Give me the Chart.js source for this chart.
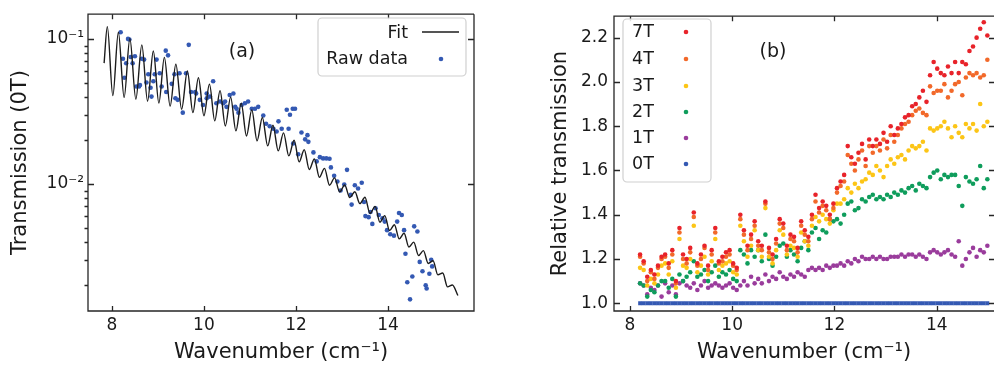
<!DOCTYPE html>
<html>
<head>
<meta charset="utf-8">
<script src="https://cdn.jsdelivr.net/npm/chart.js@4.4.1/dist/chart.umd.min.js"></script>
<style>
    html, body { margin: 0; padding: 0; background: #fff; overflow: hidden; }
    body { width: 998px; height: 367px; position: relative; }
    #leftChart { position: absolute; left: 0; top: 0; }
    #rightChart { position: absolute; left: 540px; top: 0; }
</style>
</head>
<body>
<canvas id="leftChart" width="490" height="367"></canvas>
<canvas id="rightChart" width="458" height="367"></canvas>
<script>
// ==============================
// Data: panel (a)
// ==============================

const fitX = [7.83, 7.90, 8.02, 8.14, 8.265, 8.39, 8.52, 8.65, 8.775, 8.90,
    9.02, 9.14, 9.265, 9.39, 9.515, 9.64, 9.76, 9.88, 10.0, 10.12,
    10.235, 10.35, 10.465, 10.58, 10.695, 10.81, 10.925, 11.04, 11.155, 11.27,
    11.385, 11.50, 11.615, 11.73, 11.845, 11.96, 12.07, 12.18, 12.29, 12.40,
    12.51, 12.62, 12.73, 12.84, 12.95, 13.06, 13.17, 13.28, 13.39, 13.50,
    13.61, 13.72, 13.825, 13.93, 14.035, 14.14, 14.245, 14.35, 14.455, 14.56,
    14.665, 14.77, 14.875, 14.98, 15.085, 15.19, 15.295, 15.40, 15.52];
const fitY = [0.068, 0.1216, 0.0406, 0.111, 0.0395, 0.1007, 0.0384, 0.091, 0.0372, 0.0826,
    0.0361, 0.0746, 0.0344, 0.0668, 0.0327, 0.060, 0.031, 0.054, 0.0295, 0.0488,
    0.0272, 0.044, 0.0251, 0.0397, 0.0232, 0.036, 0.0214, 0.0324, 0.0198, 0.0287,
    0.0183, 0.0254, 0.0169, 0.0225, 0.0156, 0.020, 0.0142, 0.0172, 0.01256, 0.01486,
    0.0111, 0.0128, 0.0098, 0.0110, 0.0088, 0.00982, 0.00804, 0.00883, 0.00731, 0.0081,
    0.00625, 0.0070, 0.00545, 0.00605, 0.00477, 0.00523, 0.00418, 0.00457, 0.00367, 0.00397,
    0.00321, 0.00347, 0.00283, 0.00295, 0.00236, 0.00243, 0.00195, 0.00201, 0.0017];

const rawX = [8.19, 8.24, 8.27, 8.31, 8.35, 8.38, 8.41, 8.45, 8.50, 8.53,
    8.59, 8.61, 8.65, 8.70, 8.75, 8.79, 8.84, 8.86, 8.90, 8.93,
    8.97, 9.04, 9.08, 9.17, 9.18, 9.22, 9.30, 9.36, 9.38, 9.43,
    9.47, 9.54, 9.61, 9.67, 9.72, 9.81, 9.83, 9.91, 9.98, 10.06,
    10.06, 10.13, 10.20, 10.27, 10.35, 10.42, 10.46, 10.49, 10.56, 10.64,
    10.68, 10.71, 10.75, 10.82, 10.89, 10.96, 11.04, 11.11, 11.18, 11.29,
    11.35, 11.43, 11.51, 11.58, 11.62, 11.69, 11.80, 11.84, 11.87, 11.93,
    11.94, 11.98, 12.05, 12.12, 12.20, 12.25, 12.27, 12.38, 12.45, 12.52,
    12.59, 12.66, 12.73, 12.76, 12.83, 12.90, 12.97, 13.05, 13.11, 13.19,
    13.21, 13.28, 13.35, 13.43, 13.48, 13.51, 13.58, 13.62, 13.66, 13.73,
    13.80, 13.88, 13.93, 13.98, 14.05, 14.13, 14.20, 14.24, 14.30, 14.35,
    14.38, 14.42, 14.48, 14.53, 14.57, 14.64, 14.69, 14.75, 14.82, 14.84,
    14.90, 14.94, 14.96];
const rawY = [0.111, 0.073, 0.054, 0.068, 0.100, 0.099, 0.075, 0.068, 0.076, 0.047,
    0.047, 0.048, 0.073, 0.072, 0.050, 0.057, 0.046, 0.040, 0.051, 0.057,
    0.072, 0.058, 0.047, 0.083, 0.043, 0.077, 0.049, 0.057, 0.039, 0.038,
    0.058, 0.031, 0.058, 0.091, 0.043, 0.043, 0.042, 0.038, 0.035, 0.039,
    0.042, 0.040, 0.051, 0.036, 0.037, 0.036, 0.037, 0.034, 0.041, 0.042,
    0.034, 0.033, 0.031, 0.035, 0.036, 0.037, 0.033, 0.033, 0.034, 0.0296,
    0.026, 0.025, 0.024, 0.023, 0.027, 0.024, 0.0325, 0.024, 0.030, 0.033,
    0.019, 0.033, 0.016, 0.0226, 0.0203, 0.0217, 0.0195, 0.0165, 0.0143, 0.0153,
    0.015, 0.015, 0.0149, 0.013, 0.0114, 0.0104, 0.0090, 0.0099, 0.0125, 0.0084,
    0.0072, 0.0098, 0.0093, 0.0102, 0.0075, 0.0060, 0.0059, 0.0064, 0.0053, 0.0068,
    0.0061, 0.0058, 0.0055, 0.0048, 0.0045, 0.0044, 0.0055, 0.0063, 0.0061, 0.0048,
    0.0033, 0.0021, 0.0016, 0.0023, 0.0051, 0.0047, 0.0029, 0.0025, 0.0020, 0.0019,
    0.0024, 0.0030, 0.0027];

const leftXTicks = [8, 10, 12, 14];
const leftYTicks = [0.01, 0.1];
const leftYTickLabels = ["10\u207B\u00B2", "10\u207B\u00B9"];
const leftYMinor = [0.002, 0.003, 0.004, 0.005, 0.006, 0.007, 0.008, 0.009,
    0.02, 0.03, 0.04, 0.05, 0.06, 0.07, 0.08, 0.09];

// ==============================
// Data: panel (b)
// ==============================

const wavenumbers = [8.20, 8.27, 8.34, 8.41, 8.48, 8.55, 8.62, 8.69, 8.76, 8.83,
    8.90, 8.97, 9.04, 9.11, 9.18, 9.25, 9.32, 9.39, 9.46, 9.53,
    9.60, 9.67, 9.74, 9.81, 9.88, 9.95, 10.02, 10.09, 10.16, 10.23,
    10.30, 10.37, 10.44, 10.51, 10.58, 10.65, 10.72, 10.79, 10.86, 10.93,
    11.00, 11.07, 11.14, 11.21, 11.28, 11.35, 11.42, 11.49, 11.56, 11.63,
    11.70, 11.77, 11.84, 11.91, 11.98, 12.05, 12.12, 12.19, 12.26, 12.33,
    12.40, 12.47, 12.54, 12.61, 12.68, 12.75, 12.82, 12.89, 12.96, 13.03,
    13.10, 13.17, 13.24, 13.31, 13.38, 13.45, 13.52, 13.59, 13.66, 13.73,
    13.80, 13.87, 13.94, 14.01, 14.08, 14.15, 14.22, 14.29, 14.36, 14.43,
    14.50, 14.57, 14.64, 14.71, 14.78, 14.85, 14.92, 14.99];

const t7 = [1.22, 1.19, 1.12, 1.15, 1.13, 1.17, 1.21, 1.22, 1.18, 1.24,
    1.10, 1.34, 1.22, 1.20, 1.25, 1.41, 1.18, 1.22, 1.26, 1.17,
    1.24, 1.34, 1.19, 1.21, 1.23, 1.24, 1.18, 1.16, 1.40, 1.33,
    1.26, 1.31, 1.37, 1.28, 1.26, 1.46, 1.25, 1.22, 1.29, 1.38,
    1.36, 1.26, 1.31, 1.30, 1.25, 1.37, 1.33, 1.30, 1.40, 1.49,
    1.43, 1.46, 1.44, 1.40, 1.45, 1.52, 1.55, 1.58, 1.71, 1.66,
    1.63, 1.68, 1.72, 1.65, 1.74, 1.71, 1.74, 1.72, 1.77, 1.73,
    1.80, 1.76, 1.79, 1.81, 1.84, 1.85, 1.89, 1.90, 1.93, 1.96,
    1.91, 2.03, 2.09, 2.06, 2.04, 2.03, 2.07, 2.04, 2.09, 2.04,
    2.09, 2.08, 2.14, 2.16, 2.20, 2.24, 2.27, 2.21];
const t4 = [1.21, 1.18, 1.10, 1.14, 1.11, 1.16, 1.20, 1.21, 1.16, 1.22,
    1.09, 1.32, 1.20, 1.18, 1.23, 1.39, 1.17, 1.20, 1.25, 1.15,
    1.22, 1.32, 1.18, 1.19, 1.21, 1.22, 1.17, 1.15, 1.38, 1.31,
    1.24, 1.29, 1.35, 1.26, 1.24, 1.45, 1.23, 1.20, 1.27, 1.36,
    1.34, 1.24, 1.29, 1.28, 1.23, 1.35, 1.31, 1.28, 1.38, 1.46,
    1.41, 1.44, 1.42, 1.38, 1.43, 1.50, 1.53, 1.55, 1.67, 1.63,
    1.60, 1.65, 1.69, 1.62, 1.71, 1.68, 1.71, 1.69, 1.74, 1.70,
    1.76, 1.73, 1.76, 1.79, 1.81, 1.82, 1.85, 1.87, 1.88, 1.86,
    1.85, 1.98, 1.95, 1.96, 1.96, 1.99, 1.93, 1.96, 1.99, 2.00,
    1.94, 2.02, 2.04, 2.03, 2.04, 2.02, 2.03, 2.10];
const t3 = [1.16, 1.15, 1.08, 1.11, 1.09, 1.13, 1.17, 1.18, 1.13, 1.19,
    1.07, 1.29, 1.17, 1.16, 1.20, 1.35, 1.14, 1.17, 1.21, 1.13,
    1.19, 1.29, 1.15, 1.17, 1.18, 1.19, 1.14, 1.13, 1.35, 1.28,
    1.21, 1.26, 1.33, 1.24, 1.21, 1.43, 1.21, 1.18, 1.24, 1.33,
    1.31, 1.22, 1.26, 1.25, 1.21, 1.32, 1.28, 1.26, 1.35, 1.39,
    1.37, 1.40, 1.38, 1.36, 1.42, 1.45, 1.45, 1.47, 1.52, 1.50,
    1.54, 1.52, 1.55, 1.56, 1.59, 1.58, 1.62, 1.60, 1.57, 1.62,
    1.65, 1.63, 1.66, 1.67, 1.65, 1.69, 1.71, 1.70, 1.71, 1.73,
    1.69, 1.79, 1.78, 1.79, 1.80, 1.82, 1.79, 1.75, 1.80, 1.77,
    1.75, 1.81, 1.79, 1.81, 1.78, 1.90, 1.80, 1.82];
const t2 = [1.09, 1.08, 1.03, 1.06, 1.05, 1.08, 1.10, 1.10, 1.07, 1.11,
    1.03, 1.13, 1.10, 1.12, 1.14, 1.19, 1.12, 1.13, 1.15, 1.10,
    1.14, 1.17, 1.12, 1.14, 1.13, 1.15, 1.11, 1.10, 1.24, 1.22,
    1.18, 1.24, 1.21, 1.24, 1.19, 1.31, 1.20, 1.17, 1.21, 1.26,
    1.27, 1.21, 1.24, 1.22, 1.19, 1.25, 1.28, 1.24, 1.32, 1.34,
    1.29, 1.33, 1.32, 1.38, 1.37, 1.38, 1.36, 1.40, 1.45, 1.46,
    1.42, 1.43, 1.47, 1.46, 1.48, 1.49, 1.47, 1.48, 1.47, 1.49,
    1.48, 1.50, 1.49, 1.51, 1.50, 1.52, 1.53, 1.51, 1.54, 1.53,
    1.52, 1.57, 1.59, 1.60, 1.56, 1.58, 1.57, 1.58, 1.58, 1.53,
    1.44, 1.57, 1.55, 1.54, 1.56, 1.62, 1.52, 1.56];
const t1 = [1.09, 1.08, 1.04, 1.07, 1.06, 1.08, 1.03, 1.09, 1.05, 1.08,
    1.04, 1.09, 1.10, 1.08, 1.07, 1.09, 1.06, 1.08, 1.10, 1.07,
    1.08, 1.09, 1.08, 1.07, 1.08, 1.09, 1.07, 1.06, 1.08, 1.10,
    1.08, 1.12, 1.09, 1.11, 1.09, 1.13, 1.10, 1.12, 1.11, 1.14,
    1.12, 1.11, 1.13, 1.12, 1.14, 1.13, 1.12, 1.15, 1.16, 1.15,
    1.16, 1.15, 1.17, 1.16, 1.17, 1.17, 1.18, 1.17, 1.19, 1.18,
    1.20, 1.19, 1.21, 1.20, 1.20, 1.21, 1.20, 1.21, 1.20, 1.20,
    1.21, 1.21, 1.21, 1.22, 1.21, 1.22, 1.22, 1.21, 1.22, 1.21,
    1.20, 1.23, 1.24, 1.23, 1.22, 1.23, 1.24, 1.22, 1.21, 1.28,
    1.17, 1.20, 1.23, 1.25, 1.21, 1.24, 1.23, 1.26];
const t0 = [1, 1, 1, 1, 1, 1, 1, 1, 1, 1,
    1, 1, 1, 1, 1, 1, 1, 1, 1, 1,
    1, 1, 1, 1, 1, 1, 1, 1, 1, 1,
    1, 1, 1, 1, 1, 1, 1, 1, 1, 1,
    1, 1, 1, 1, 1, 1, 1, 1, 1, 1,
    1, 1, 1, 1, 1, 1, 1, 1, 1, 1,
    1, 1, 1, 1, 1, 1, 1, 1, 1, 1,
    1, 1, 1, 1, 1, 1, 1, 1, 1, 1,
    1, 1, 1, 1, 1, 1, 1, 1, 1, 1,
    1, 1, 1, 1, 1, 1, 1, 1];

const fieldLabels = ["7T", "4T", "3T", "2T", "1T", "0T"];
const fieldSeries = [t7, t4, t3, t2, t1, t0];
const rightXTicks = [8, 10, 12, 14];
const rightYTicks = [1.0, 1.2, 1.4, 1.6, 1.8, 2.0, 2.2];

// ==============================
// Styles and helpers
// ==============================

const FONT = "'DejaVu Sans', sans-serif";
const TEXT = "#1a1a1a";
const fieldColors = ["#e8232a", "#f2692a", "#fcc516", "#0f9d5c", "#9a3c9c", "#3459b3"];

function toPoints(xs, ys) {
    return xs.map((x, i) => ({ x: x, y: ys[i] }));
}

function framePlugin(cfg) {
    return {
        id: "frame",
        afterDraw(chart) {
            const { ctx, chartArea: a, scales } = chart;
            const rightTick = cfg.rightTick || 6;
            ctx.save();
            ctx.strokeStyle = "#262626";
            ctx.lineWidth = 1.3;
            ctx.beginPath();
            ctx.moveTo(a.right, a.top);
            ctx.lineTo(a.left, a.top);
            ctx.lineTo(a.left, a.bottom);
            ctx.lineTo(a.right, a.bottom);
            if (!cfg.openRight) ctx.lineTo(a.right, a.top);
            ctx.stroke();
            ctx.beginPath();
            cfg.xTicks.forEach(v => {
                const px = Math.round(scales.x.getPixelForValue(v)) + 0.5;
                ctx.moveTo(px, a.bottom); ctx.lineTo(px, a.bottom - 5);
                ctx.moveTo(px, a.top); ctx.lineTo(px, a.top + 5);
            });
            cfg.yTicks.forEach(v => {
                const py = Math.round(scales.y.getPixelForValue(v)) + 0.5;
                ctx.moveTo(a.left, py); ctx.lineTo(a.left + 6, py);
                ctx.moveTo(a.right, py); ctx.lineTo(a.right - rightTick, py);
            });
            (cfg.yMinor || []).forEach(v => {
                const py = Math.round(scales.y.getPixelForValue(v)) + 0.5;
                ctx.moveTo(a.left, py); ctx.lineTo(a.left - 3.5, py);
            });
            ctx.stroke();

            // panel letter
            ctx.fillStyle = TEXT;
            ctx.font = "19px " + FONT;
            ctx.textAlign = "center";
            ctx.textBaseline = "middle";
            ctx.fillText(cfg.tag[0], cfg.tag[1], cfg.tag[2]);

            // legend
            const L = cfg.legend;
            const [bx, by, bw, bh] = L.box;
            const r = 4;
            ctx.beginPath();
            ctx.moveTo(bx + r, by);
            ctx.lineTo(bx + bw - r, by);
            ctx.arcTo(bx + bw, by, bx + bw, by + r, r);
            ctx.lineTo(bx + bw, by + bh - r);
            ctx.arcTo(bx + bw, by + bh, bx + bw - r, by + bh, r);
            ctx.lineTo(bx + r, by + bh);
            ctx.arcTo(bx, by + bh, bx, by + bh - r, r);
            ctx.lineTo(bx, by + r);
            ctx.arcTo(bx, by, bx + r, by, r);
            ctx.closePath();
            ctx.fillStyle = "rgba(255,255,255,0.85)";
            ctx.fill();
            ctx.strokeStyle = "#d0d0d0";
            ctx.lineWidth = 1.2;
            ctx.stroke();

            ctx.font = "17.5px " + FONT;
            ctx.textAlign = L.align;
            chart.data.datasets.forEach((ds, i) => {
                const y = L.rowY[i];
                ctx.fillStyle = TEXT;
                ctx.fillText(ds.label, L.textX, y);
                if (ds.showLine) {
                    ctx.strokeStyle = ds.borderColor;
                    ctx.lineWidth = 1.4;
                    ctx.beginPath();
                    ctx.moveTo(L.lineX[0], y - 1);
                    ctx.lineTo(L.lineX[1], y - 1);
                    ctx.stroke();
                } else {
                    ctx.fillStyle = ds.backgroundColor;
                    ctx.beginPath();
                    ctx.arc(L.markX, y, 2.3, 0, Math.PI * 2);
                    ctx.fill();
                }
            });
            ctx.restore();
        }
    };
}

const tickFont = { family: FONT, size: 17 };
const titleFont = { family: FONT, size: 21 };

// ==============================
// Panel (a)
// ==============================

new Chart(document.getElementById("leftChart"), {
    type: "scatter",
    data: {
        datasets: [{
            label: "Fit",
            data: toPoints(fitX, fitY),
            showLine: true,
            borderColor: "#1c1c1c",
            borderWidth: 1.4,
            pointRadius: 0,
            cubicInterpolationMode: "monotone"
        }, {
            label: "Raw data",
            data: toPoints(rawX, rawY),
            backgroundColor: "#3459b3",
            borderWidth: 0,
            pointRadius: 2.3
        }]
    },
    options: {
        responsive: false,
        animation: false,
        layout: { padding: { top: 10, right: 16, left: 0, bottom: 0 } },
        plugins: { legend: { display: false }, tooltip: { enabled: false } },
        scales: {
            x: {
                type: "linear",
                min: 7.48,
                max: 15.87,
                afterBuildTicks: s => { s.ticks = leftXTicks.map(v => ({ value: v })); },
                afterFit: s => { s.height = 56; },
                grid: { display: false, drawTicks: false },
                border: { display: false },
                ticks: { color: TEXT, font: tickFont, padding: 4, maxRotation: 0 },
                title: { display: true, text: "Wavenumber (cm\u207B\u00B9)", color: TEXT, font: titleFont, padding: { top: 0, bottom: 2 } }
            },
            y: {
                type: "logarithmic",
                min: 0.00133,
                max: 0.148,
                afterBuildTicks: s => { s.ticks = leftYTicks.map(v => ({ value: v })); },
                afterFit: s => { s.width = 88; },
                grid: { display: false, drawTicks: false },
                border: { display: false },
                ticks: {
                    color: TEXT,
                    font: tickFont,
                    padding: 4,
                    callback: v => {
                        const k = leftYTicks.findIndex(t => Math.abs(t - v) < t * 1e-6);
                        return k >= 0 ? leftYTickLabels[k] : "";
                    }
                },
                title: { display: true, text: "Transmission (0T)", color: TEXT, font: titleFont, padding: { top: 8, bottom: 0 } }
            }
        }
    },
    plugins: [framePlugin({
        xTicks: leftXTicks,
        yTicks: leftYTicks,
        yMinor: leftYMinor,
        tag: ["(a)", 242, 52],
        legend: { box: [318, 18, 148, 58], align: "right", textX: 408, rowY: [33, 59], lineX: [422, 459], markX: 441 }
    })]
});

// ==============================
// Panel (b)
// ==============================

new Chart(document.getElementById("rightChart"), {
    type: "scatter",
    data: {
        datasets: fieldLabels.map((label, i) => ({
            label: label,
            data: toPoints(wavenumbers, fieldSeries[i]),
            backgroundColor: fieldColors[i],
            borderWidth: 0,
            pointStyle: i === 5 ? "rect" : "circle",
            pointRadius: i === 5 ? 2.7 : 2.3
        }))
    },
    options: {
        responsive: false,
        animation: false,
        layout: { padding: { top: 10, right: 0, left: 0, bottom: 0 } },
        plugins: { legend: { display: false }, tooltip: { enabled: false } },
        scales: {
            x: {
                type: "linear",
                min: 7.69,
                max: 15.12,
                afterBuildTicks: s => { s.ticks = rightXTicks.map(v => ({ value: v })); },
                afterFit: s => { s.height = 56; },
                grid: { display: false, drawTicks: false },
                border: { display: false },
                ticks: { color: TEXT, font: tickFont, padding: 4, maxRotation: 0 },
                title: { display: true, text: "Wavenumber (cm\u207B\u00B9)", color: TEXT, font: titleFont, padding: { top: 0, bottom: 2 } }
            },
            y: {
                type: "linear",
                min: 0.965,
                max: 2.297,
                afterBuildTicks: s => { s.ticks = rightYTicks.map(v => ({ value: v })); },
                afterFit: s => { s.width = 74; },
                grid: { display: false, drawTicks: false },
                border: { display: false },
                ticks: { color: TEXT, font: tickFont, padding: 6, callback: v => Number(v).toFixed(1) },
                title: { display: true, text: "Relative transmission", color: TEXT, font: titleFont, padding: { top: 8, bottom: 0 } }
            }
        }
    },
    plugins: [framePlugin({
        xTicks: rightXTicks,
        yTicks: rightYTicks,
        openRight: true,
        rightTick: 5,
        tag: ["(b)", 233, 52],
        legend: { box: [83, 19, 88, 163], align: "left", textX: 92, rowY: [32, 59, 86, 112, 138, 164], markX: 146 }
    })]
});
</script>
</body>
</html>
